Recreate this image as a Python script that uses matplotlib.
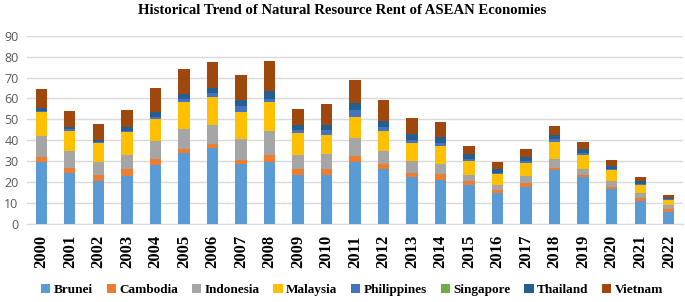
import numpy as np
import matplotlib
matplotlib.use('Agg')
import matplotlib.pyplot as plt

# values
years = [str(y) for y in range(2000, 2023)]
brunei = [29.8, 24.4, 20.7, 23.1, 28.0, 34.1, 36.5, 28.5, 29.8, 23.4, 23.4, 29.8,
          26.4, 22.6, 21.2, 18.6, 14.7, 17.8, 26.0, 22.6, 16.7, 11.2, 5.7]
cambodia = [2.2, 2.5, 2.7, 3.3, 3.1, 1.7, 1.6, 2.2, 3.0, 2.9, 2.9, 2.9,
            2.4, 1.8, 2.7, 1.9, 1.7, 2.0, 0.9, 0.7, 1.1, 1.4, 1.6]
indonesia = [9.9, 8.0, 6.4, 6.6, 8.6, 9.8, 9.2, 9.9, 11.6, 6.8, 7.0, 8.6,
             6.1, 5.5, 4.6, 3.1, 2.4, 3.3, 4.3, 3.1, 2.9, 2.2, 1.6]
malaysia = [11.5, 9.4, 8.7, 10.8, 10.5, 12.9, 13.4, 13.1, 13.7, 10.2, 9.4, 10.0,
            9.7, 8.8, 8.6, 6.7, 5.3, 6.0, 8.1, 6.7, 5.1, 4.0, 2.6]
philippines = [0.4, 0.9, 0.5, 0.5, 1.1, 1.1, 2.1, 2.8, 1.6, 1.6, 2.2, 3.2,
               1.8, 1.6, 1.8, 0.9, 0.4, 1.0, 1.3, 0.7, 0.5, 0.5, 0.3]
singapore = [0.0] * 23
thailand = [1.5, 1.0, 1.3, 2.1, 2.1, 2.5, 2.2, 2.9, 3.7, 2.2, 2.6, 3.2,
            3.0, 2.7, 2.8, 2.1, 1.8, 1.8, 1.8, 1.9, 1.6, 1.1, 0.8]
vietnam = [9.2, 8.0, 7.6, 8.1, 11.6, 12.0, 12.4, 11.6, 14.3, 7.7, 9.7, 11.1,
           9.7, 7.7, 7.0, 4.1, 3.5, 3.9, 4.6, 3.3, 2.7, 1.9, 1.3]

names = ['Brunei', 'Cambodia', 'Indonesia', 'Malaysia', 'Philippines',
         'Singapore', 'Thailand', 'Vietnam']
series = [brunei, cambodia, indonesia, malaysia, philippines,
          singapore, thailand, vietnam]
colors = ['#5B9BD5', '#ED7D31', '#A5A5A5', '#FFC000', '#4472C4',
          '#70AD47', '#255E91', '#9E480E']

fig = plt.figure(figsize=(6.85, 3.02), dpi=100)
ax = fig.add_axes([0.0394, 0.2583, 0.9577, 0.6235])

x = np.arange(len(years))
bottom = np.zeros(len(years))
for name, vals, c in zip(names, series, colors):
    ax.bar(x, vals, 0.4, bottom=bottom, color=c, label=name, zorder=3)
    bottom += np.array(vals)

ax.set_xlim(-0.5, len(years) - 0.5)
ax.set_ylim(0, 90)
ax.set_yticks(range(0, 91, 10))
ax.grid(axis='y', color='#D9D9D9', linewidth=1, zorder=0)
for s in ['top', 'right', 'left']:
    ax.spines[s].set_visible(False)
ax.spines['bottom'].set_color('#D9D9D9')
ax.tick_params(axis='both', length=0)
ax.tick_params(axis='y', labelsize=9, labelcolor='#595959', pad=6)
ax.tick_params(axis='x', pad=8)
ax.set_xticks(x)
ax.set_xticklabels(years, rotation=90, fontsize=12, fontweight='bold',
                   family='Liberation Serif')
for lab in ax.get_yticklabels():
    lab.set_family('Open Sans')

fig.text(0.5, 0.965, 'Historical Trend of Natural Resource Rent of ASEAN Economies',
         ha='center', va='center', fontsize=10.6, fontweight='bold',
         family='Liberation Serif')

leg = fig.legend(loc='center', bbox_to_anchor=(0.514, 0.04), ncol=8,
                 frameon=False, handlelength=0.7, handleheight=0.7,
                 handletextpad=0.25, columnspacing=1.05,
                 prop={'family': 'Liberation Serif', 'weight': 'bold', 'size': 9.5})

fig.savefig('out.png', dpi=100)
